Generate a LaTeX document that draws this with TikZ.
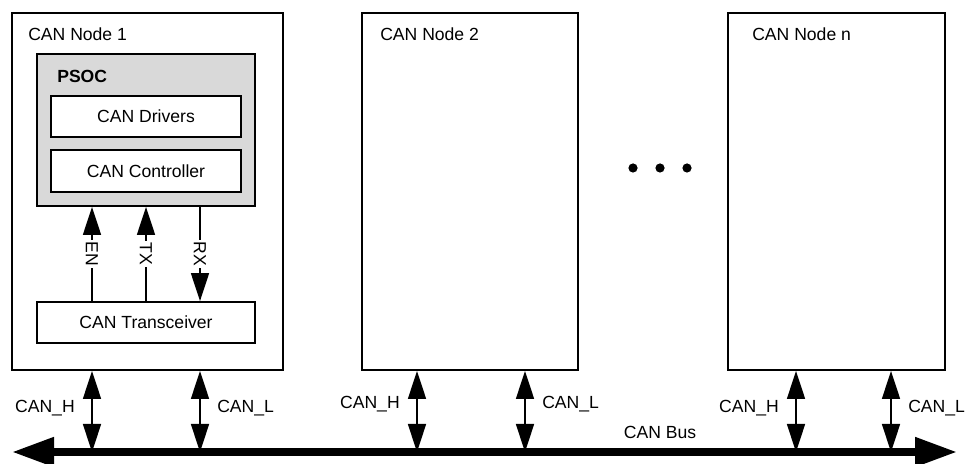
\documentclass[tikz,border=0pt]{standalone}
\usepackage{fontspec}
\setmainfont{Liberation Sans}
\usetikzlibrary{arrows.meta}

\begin{document}
\begin{tikzpicture}[x=0.025cm, y=-0.025cm,
    font=\fontsize{12.5}{15}\selectfont,
    box/.style={draw, line width=1.3pt, inner sep=0pt},
    sig/.style={line width=1.1pt, -{Triangle[length=0.7cm,width=0.45cm]}},
    bidir/.style={line width=1.1pt, {Triangle[length=0.7cm,width=0.45cm]}-{Triangle[length=0.7cm,width=0.45cm]}},
    siglabel/.style={fill=white, rotate=-90, inner sep=1pt},
    dot/.style={circle, fill, inner sep=0pt, minimum size=0.23cm}]
    \useasboundingbox (0,0) rectangle (966,464);
    % the three nodes
    \node[box, minimum width=6.775cm, minimum height=8.925cm] (n1) at (147.5,191.5) {};
    \node[box, minimum width=5.4cm, minimum height=8.925cm] (n2) at (470,191.5) {};
    \node[box, minimum width=5.425cm, minimum height=8.925cm] (nn) at (836.5,191.5) {};
    \node[anchor=west, inner sep=0pt] (n1lab) at (28,34) {CAN Node 1};
    \node[anchor=west, inner sep=0pt] (n2lab) at (380,34) {CAN Node 2};
    \node[anchor=west, inner sep=0pt] (nnlab) at (752,34) {CAN Node n};
    % inside node 1
    \node[box, fill=gray!30, minimum width=5.45cm, minimum height=3.8cm] (psoc) at (146,130) {};
    \node[anchor=west, inner sep=0pt, font=\fontsize{12.5}{15}\selectfont\bfseries] (psoclab) at (57,76) {PSOC};
    \node[box, fill=white, minimum width=4.75cm, minimum height=1.025cm] (drv) at (146,116.5) {CAN Drivers};
    \node[box, fill=white, minimum width=4.75cm, minimum height=1.05cm] (ctrl) at (146,171) {CAN Controller};
    \node[box, minimum width=5.45cm, minimum height=1.025cm] (xcvr) at (146,322.5) {CAN Transceiver};
    \coordinate (en) at (92,0);
    \coordinate (tx) at (146,0);
    \coordinate (rx) at (200,0);
    \draw[sig] (xcvr.north -| en) -- node[siglabel] (enlab) {EN} (psoc.south -| en);
    \draw[sig] (xcvr.north -| tx) -- node[siglabel] (txlab) {TX} (psoc.south -| tx);
    \draw[sig] (psoc.south -| rx) -- node[siglabel] (rxlab) {RX} (xcvr.north -| rx);
    % dots between node 2 and node n
    \node[dot] (dot1) at (633,168) {};
    \node[dot] (dot2) at (660,168) {};
    \node[dot] (dot3) at (687,168) {};
    % the bus
    \coordinate (busL) at (12,452);
    \coordinate (busR) at (957,452);
    \draw[line width=5.5pt, {Triangle[length=1.05cm,width=0.7cm]}-{Triangle[length=1.05cm,width=0.7cm]}] (busL) -- (busR);
    \node (buslab) at (660,432) {CAN Bus};
    \foreach \n/\xh/\xl/\y [count=\i] in {n1/92/200/408, n2/417/525/404, nn/796/891/408} {
        \coordinate (tapH\i) at (\xh,452);
        \coordinate (tapL\i) at (\xl,452);
        \draw[bidir] (\n.south -| tapH\i) -- (tapH\i);
        \draw[bidir] (\n.south -| tapL\i) -- (tapL\i);
        \node[anchor=east, inner sep=0pt] (hlab\i) at ({\xh-17},\y) {CAN\_H};
        \node[anchor=west, inner sep=0pt] (llab\i) at ({\xl+17},\y) {CAN\_L};
    }
\end{tikzpicture}
\end{document}
